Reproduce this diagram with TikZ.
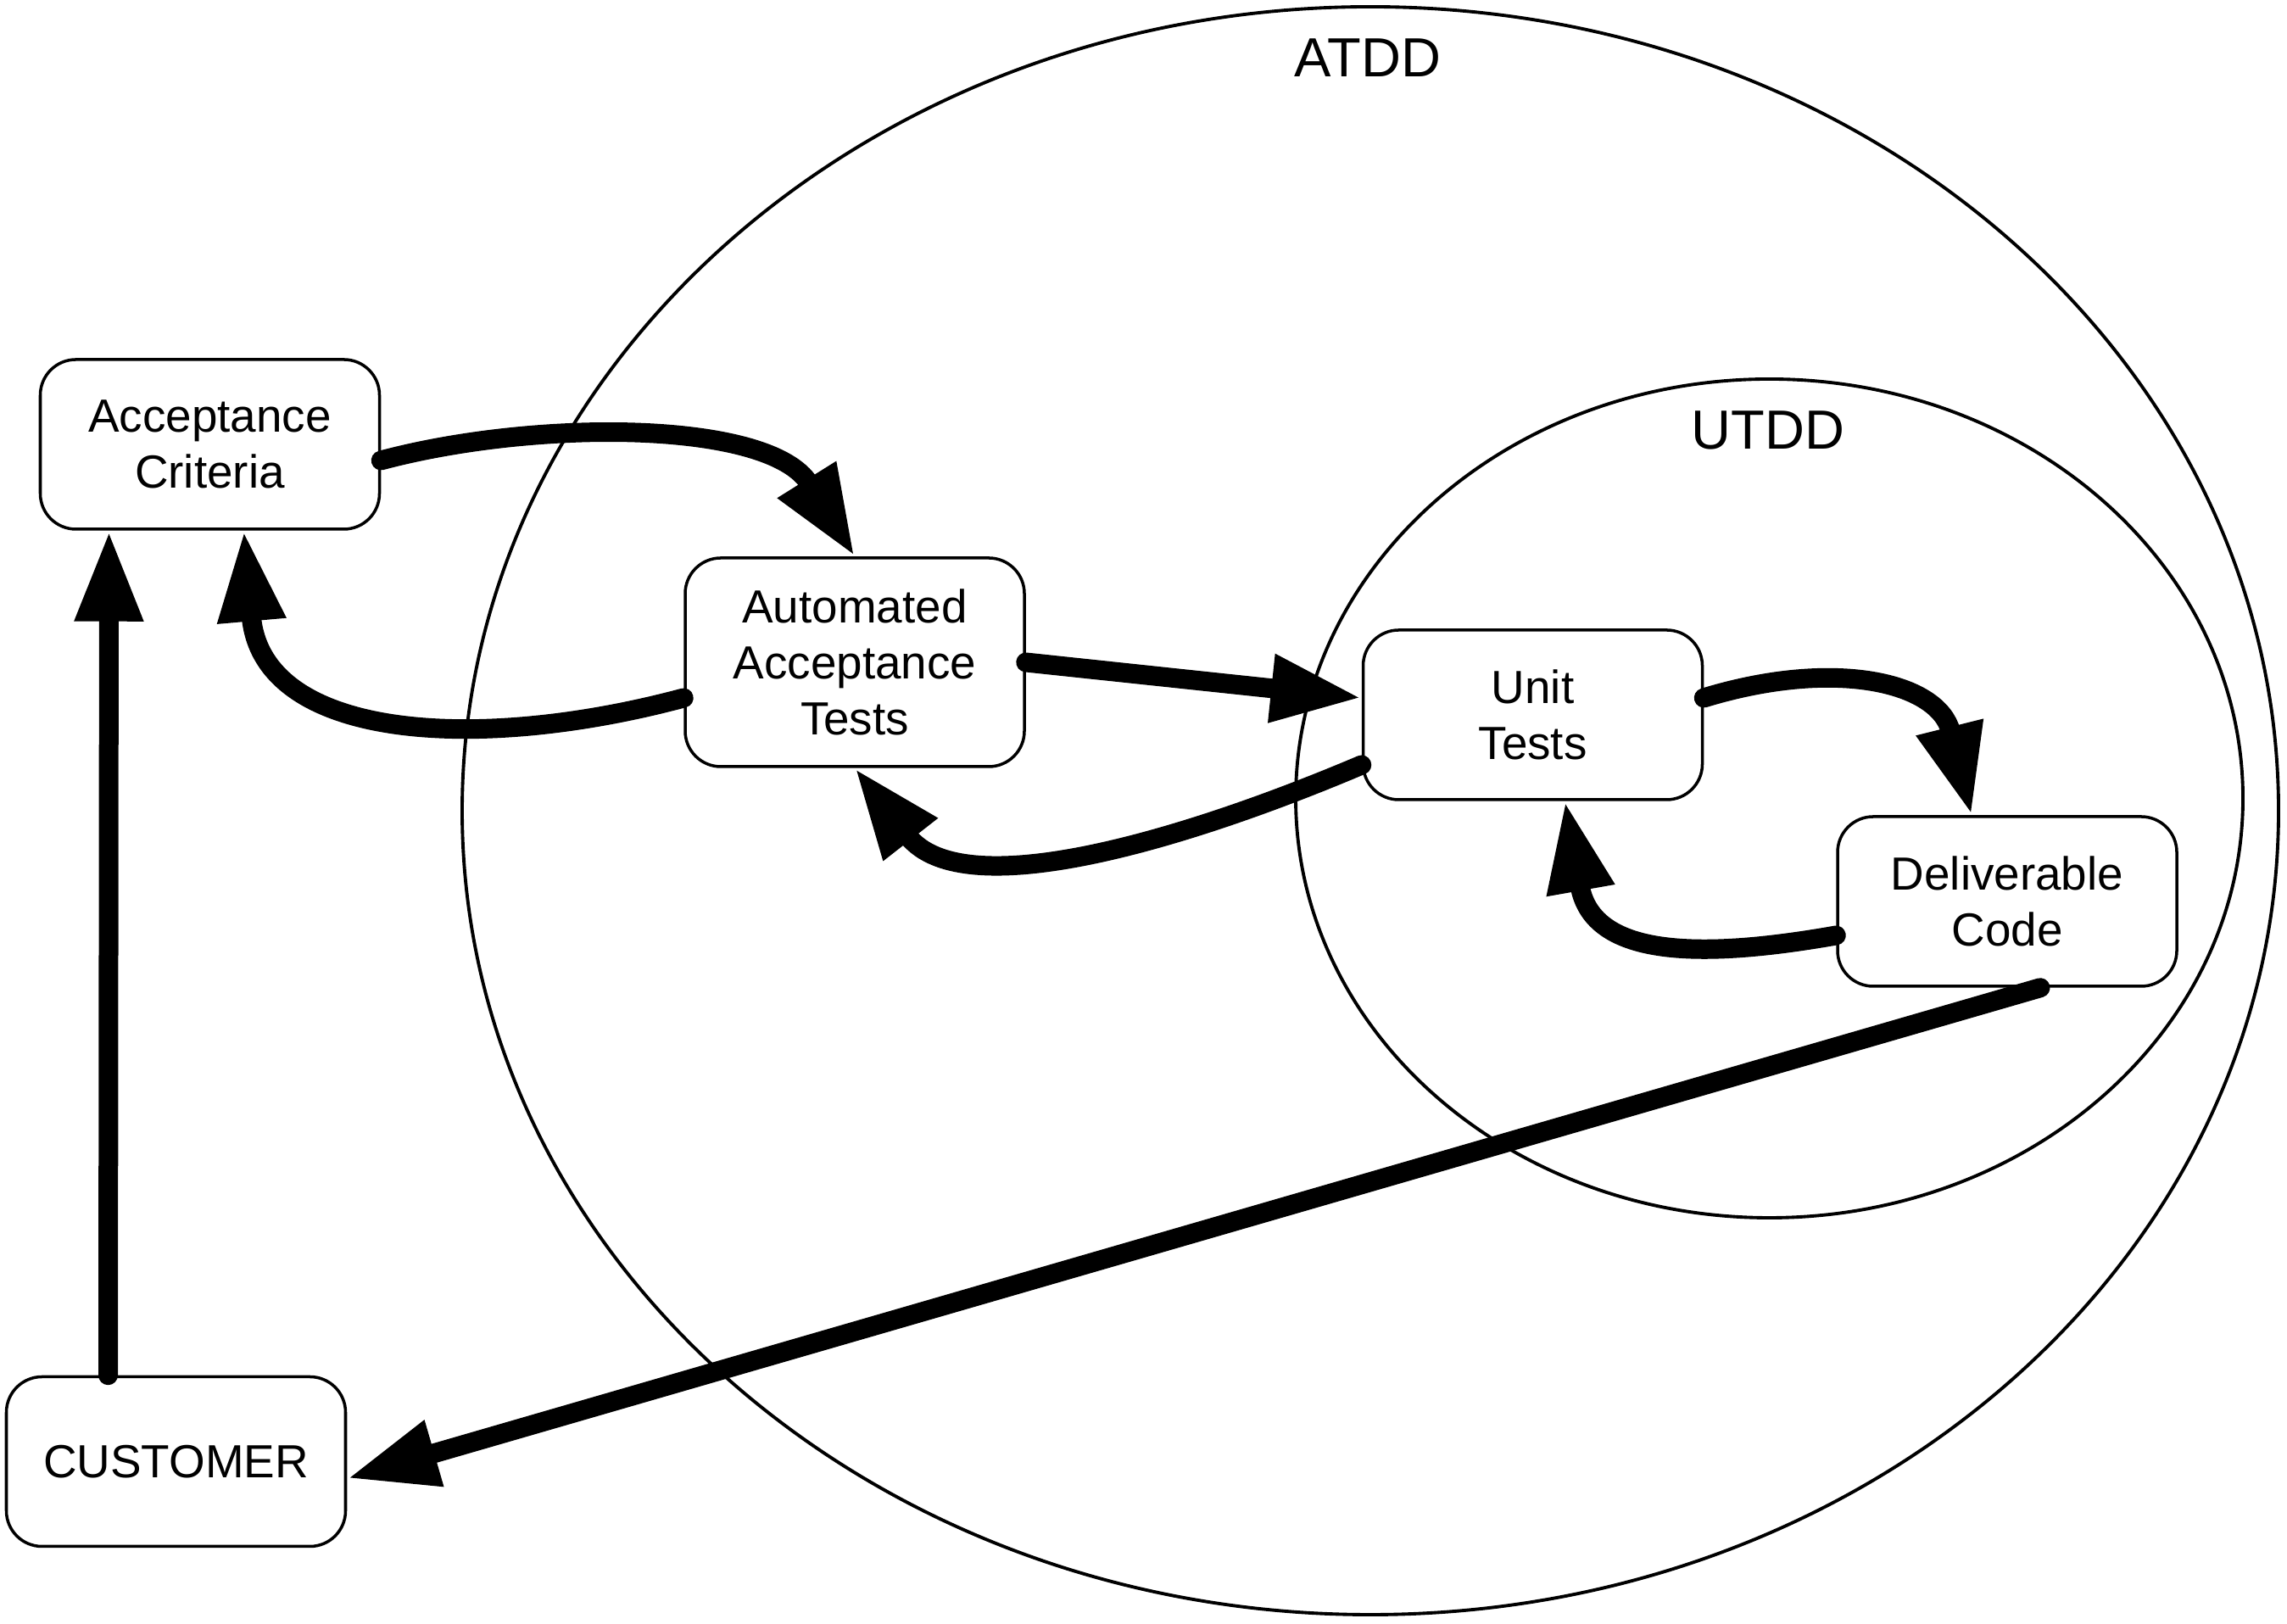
\documentclass[tikz,border=0pt]{standalone}
\usepackage{fontspec}
\setmainfont{Liberation Sans}
\usepackage{tikz}
\usetikzlibrary{arrows.meta, positioning, calc}
\tikzset{
    % Rings
    tddring/.style={draw=black, line width=1.1pt},
    tddlbl/.style={font=\fontsize{18.5}{22}\selectfont},
    % Boxes
    tddnode/.style={rectangle, rounded corners=0.42cm, draw=black, fill=white,
                 line width=1pt, minimum width=4.0cm, minimum height=2.0cm,
                 inner sep=0pt, align=center, font=\fontsize{15.6}{18.8}\selectfont},
    % Connectors
    tddarrow/.style={-{Triangle[length=1.07cm, width=0.75cm]}, line width=0.23cm,
                 line cap=round, black},
}
\begin{document}
\begin{tikzpicture}
\useasboundingbox (0,0) rectangle (26.97,19.15);
\draw[tddring] (16.16,9.59) ellipse [x radius=10.71, y radius=9.48];
\draw[tddring] (20.865,9.735) ellipse [x radius=5.585, y radius=4.945];
\node[tddlbl] (atdd) at (16.13,18.47) {ATDD};
\node[tddlbl] (utdd) at (20.85,14.08) {UTDD};
\node[tddnode] (ac)   at (2.475,13.91) {Acceptance\\Criteria};
\node[tddnode, minimum height=2.46cm] (aat) at (10.08,11.34) {Automated\\Acceptance\\Tests};
\node[tddnode] (ut)   at (18.075,10.72) {Unit\\Tests};
\node[tddnode] (dc)   at (23.67,8.52) {Deliverable\\Code};
\node[tddnode] (cust) at (2.075,1.915) {CUSTOMER};
\draw[tddarrow] ([yshift=-0.19cm]ac.east) to[out=15, in=122, looseness=0.85] (aat.north);
\draw[tddarrow] ([yshift=-0.42cm]aat.west) to[out=195, in=-85, looseness=1.15] ([xshift=0.40cm]ac.south);
\draw[tddarrow] (aat.east) -- ([yshift=0.20cm]ut.west);
\draw[tddarrow] ([yshift=-0.59cm]ut.west) to[out=203, in=-52, looseness=0.9] (aat.south);
\draw[tddarrow] ([yshift=0.20cm]ut.east) to[out=17, in=104, looseness=1.2] ([xshift=-0.42cm]dc.north);
\draw[tddarrow] ([yshift=-0.40cm]dc.west) to[out=190, in=-80, looseness=1.3] ([xshift=0.38cm]ut.south);
\draw[tddarrow] ([xshift=-0.80cm]cust.north) -- ([xshift=-1.19cm]ac.south);
\draw[tddarrow] ([xshift=0.39cm]dc.south) -- ([yshift=-0.20cm]cust.east);
\end{tikzpicture}
\end{document}
